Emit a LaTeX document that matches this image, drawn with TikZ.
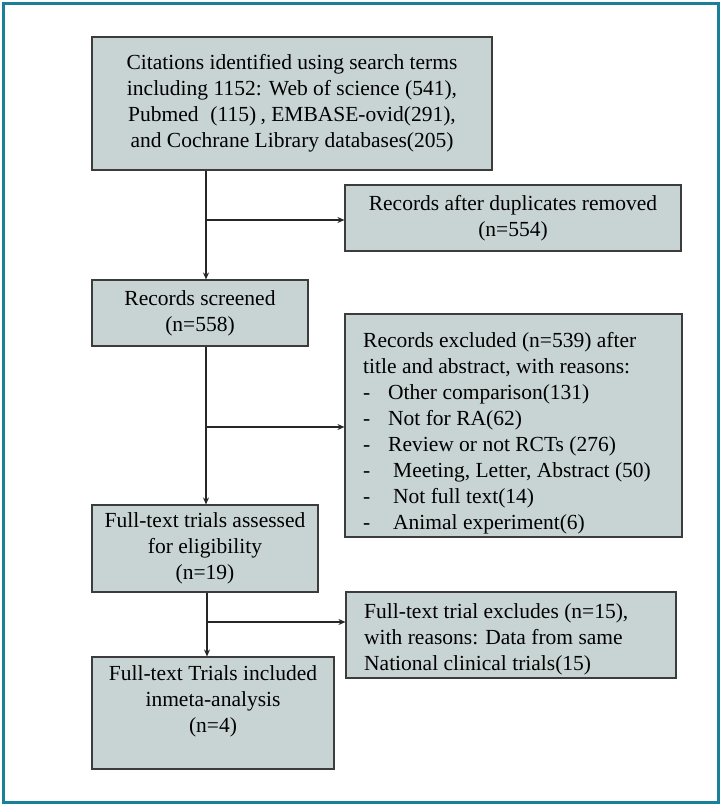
\documentclass[tikz,border=0pt]{standalone}
\usepackage{fontspec}
\setmainfont{Liberation Serif}
\usetikzlibrary{arrows.meta}
\definecolor{boxfill}{HTML}{C8D4D4}
\definecolor{boxline}{HTML}{3C3C3C}
\definecolor{framecol}{HTML}{1A7F98}
\newcommand{\itmA}{\makebox[25pt][l]{-}}
\newcommand{\itmB}{\makebox[30pt][l]{-}}
\begin{document}
\begin{tikzpicture}[x=1pt,y=-1pt,
  box/.style={draw=boxline, fill=boxfill, line width=1.1pt, inner sep=0pt, text=black, font=\fontsize{21.5}{26}\selectfont, align=center},
  lbl/.style={inner sep=0pt, text=black, font=\fontsize{21.5}{26}\selectfont, align=left},
  arr/.style={line width=1.3pt, draw=black!85, -{Stealth[length=7pt,width=6pt]}}]
\useasboundingbox (0,0) rectangle (722,807);
\draw[draw=framecol, line width=3pt] (3.5,3.5) rectangle (718.5,802.5);

\node[box, minimum width=400pt, minimum height=133pt] (b1) at (292,103.5)
  {Citations identified using search terms\\including 1152: Web of science (541),\\Pubmed\hspace{0.55em}(115)\hspace{0.2em}, EMBASE-ovid(291),\\and Cochrane Library databases(205)};
\node[box, minimum width=336pt, minimum height=66pt] (b2) at (513,218)
  {Records after duplicates removed\\(n=554)};
\node[box, minimum width=216pt, minimum height=66pt] (b3) at (200,313)
  {Records screened\\(n=558)};
\node[box, minimum width=337pt, minimum height=223pt] (b4) at (513.5,425.5) {};
\node[lbl, anchor=west] (t4) at (363,433)
  {Records excluded (n=539) after\\title and abstract, with reasons:\\\itmA Other comparison(131)\\\itmA Not for RA(62)\\\itmA Review or not RCTs (276)\\\itmB Meeting, Letter, Abstract (50)\\\itmB Not full text(14)\\\itmB Animal experiment(6)};
\node[box, minimum width=226pt, minimum height=87pt] (b5) at (205,548.5)
  {Full-text trials assessed\\for eligibility\\(n=19)};
\node[box, minimum width=330pt, minimum height=86pt] (b6) at (511,635) {};
\node[lbl, anchor=west] (t6) at (364,639)
  {Full-text trial excludes (n=15),\\with reasons: Data from same\\National clinical trials(15)};
\node[box, minimum width=242pt, minimum height=112pt] (b7) at (213,713) {};
\node[lbl, align=center] (t7) at (213,701)
  {Full-text Trials included\\inmeta-analysis\\(n=4)};

\coordinate (j1) at (206,220);
\draw[arr] (b1.south -| j1) -- (b3.north -| j1);
\draw[arr] (j1) -- (b2.west |- j1);
\coordinate (j2) at (206,427);
\draw[arr] (b3.south -| j2) -- (b5.north -| j2);
\draw[arr] (j2) -- (b4.west |- j2);
\coordinate (j3) at (207,622);
\draw[arr] (b5.south -| j3) -- (b7.north -| j3);
\draw[arr] (j3) -- (b6.west |- j3);
\end{tikzpicture}
\end{document}
